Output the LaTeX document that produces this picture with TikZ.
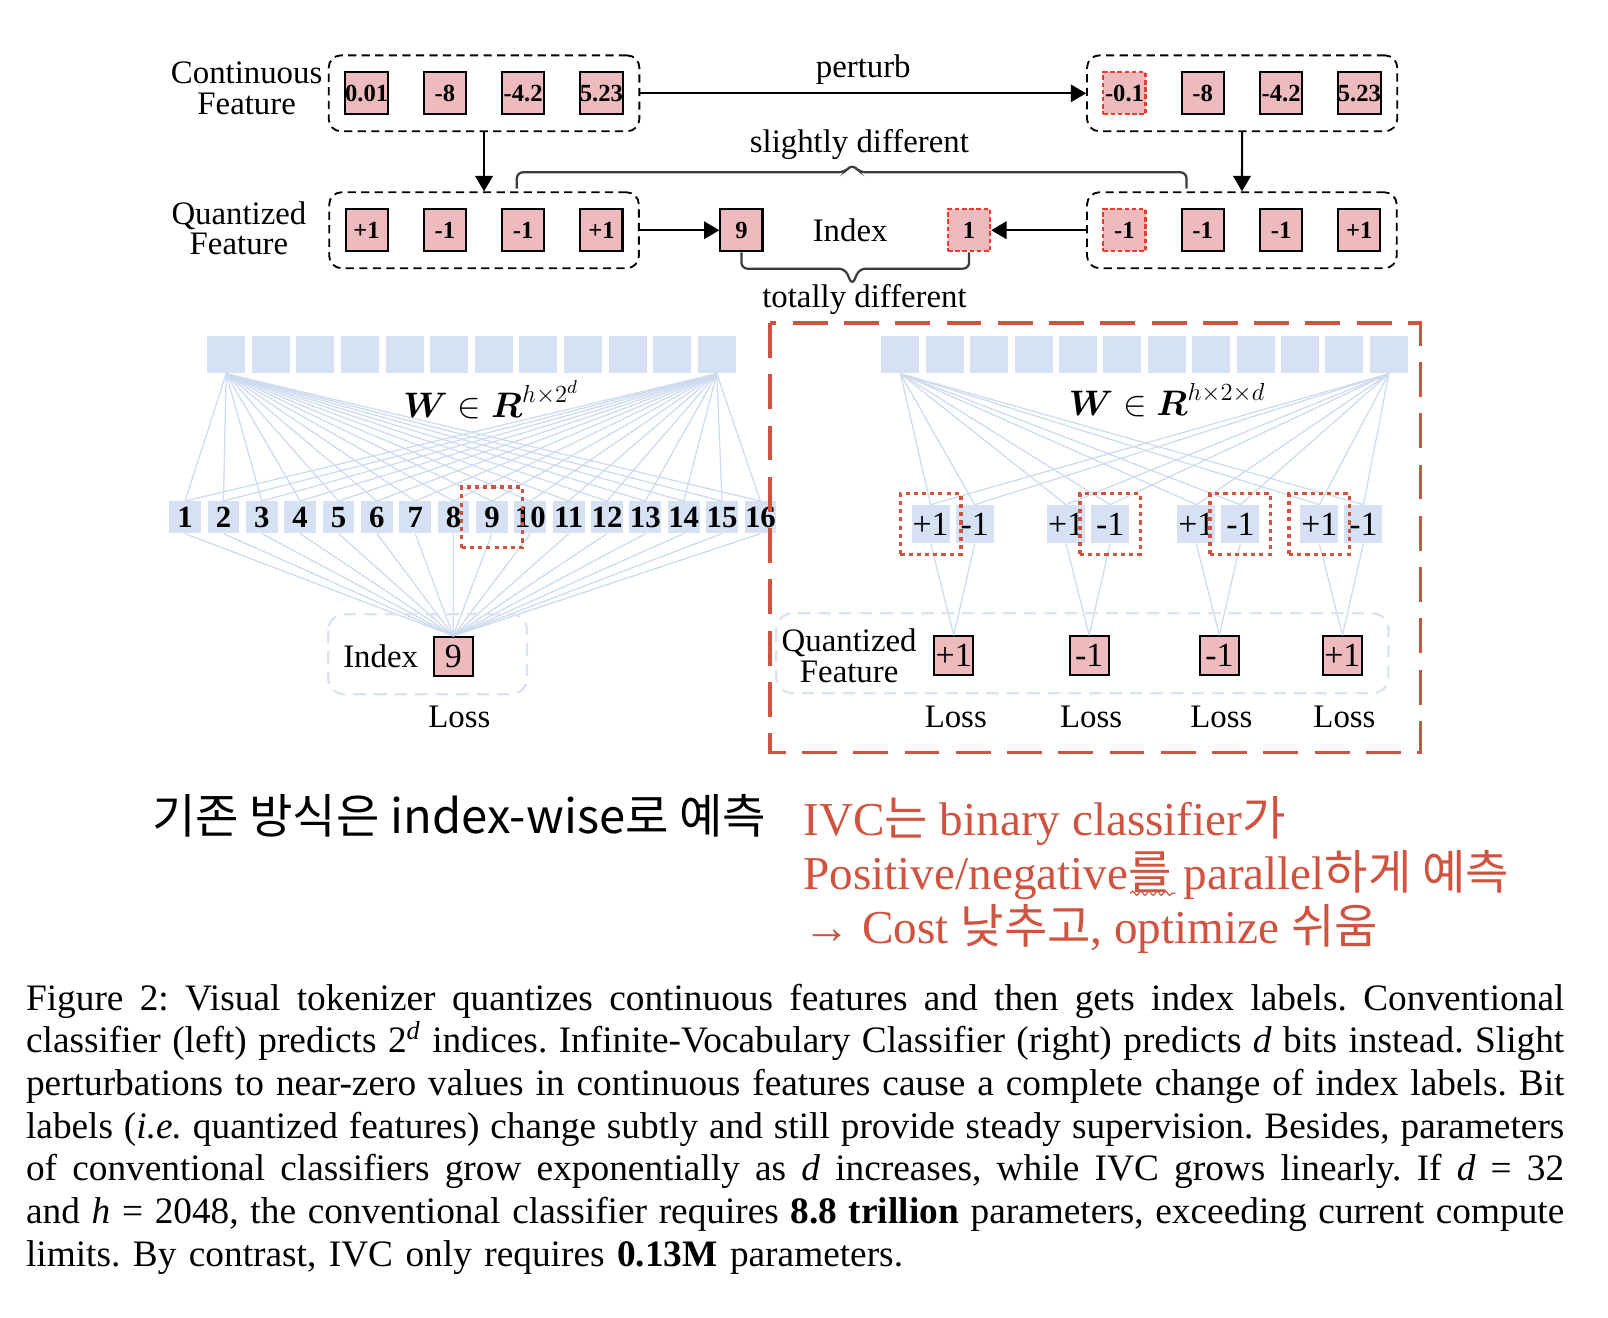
\documentclass[tikz,border=0pt]{standalone}
\usepackage{fontspec}
\usepackage{amsmath}
\setmainfont{Liberation Serif}
\newfontfamily\krfont{Noto Sans CJK KR}
\usetikzlibrary{arrows.meta, positioning, fit, calc, decorations.pathmorphing}
\definecolor{cellpink}{HTML}{EDBABE}
\definecolor{cellblue}{HTML}{D6E2F3}
\definecolor{fanblue}{HTML}{CCDBEF}
\definecolor{softborder}{HTML}{D9E3F2}
\definecolor{ivcred}{HTML}{D05340}
\definecolor{changedred}{HTML}{F03A2E}
\definecolor{bracegray}{HTML}{3C3C3C}
\newcommand{\capline}[1]{\leavevmode\hbox to 750pt{\spaceskip=0.25em plus 1em minus 0.1em\relax #1}}
\tikzset{
  valbox/.style={
    draw=black,
    fill=cellpink,
    line width=1pt,
    minimum width=20.5pt,
    minimum height=20.5pt,
    inner sep=0pt,
    font=\fontsize{12}{12}\selectfont\bfseries
  },
  changedbox/.style={
    valbox,
    draw=changedred,
    dash pattern=on 2.2pt off 1.3pt
  },
  groupbox/.style={
    draw=black,
    dash pattern=on 4pt off 2.6pt,
    line width=0.9pt,
    rounded corners=6pt,
    inner xsep=7.5pt,
    inner ysep=7.75pt
  },
  flowarrow/.style={
    -{Stealth[length=7.5pt, width=8.5pt, inset=0pt]},
    line width=1pt
  },
  bracket/.style={
    draw=bracegray,
    line width=1.1pt,
    rounded corners=3pt
  },
  lbl/.style={
    inner sep=0pt,
    font=\fontsize{16}{15}\selectfont,
    align=center
  },
  wcell/.style={
    fill=cellblue,
    minimum width=18.5pt,
    minimum height=18pt,
    inner sep=0pt
  },
  idxcell/.style={
    fill=cellblue,
    minimum width=15.5pt,
    minimum height=15.5pt,
    inner sep=0pt,
    font=\fontsize{15}{15}\selectfont\bfseries
  },
  bitcell/.style={
    fill=cellblue,
    minimum width=18.5pt,
    minimum height=18.5pt,
    inner sep=0pt,
    font=\fontsize{16.5}{16}\selectfont
  },
  labelbox/.style={
    draw=black,
    fill=cellpink,
    line width=1pt,
    minimum width=19pt,
    minimum height=19pt,
    inner sep=0pt,
    font=\fontsize{16.5}{16}\selectfont
  },
  fanline/.style={
    draw=fanblue,
    line width=0.6pt
  },
  pickbox/.style={
    draw=ivcred,
    line width=1.6pt,
    dash pattern=on 2pt off 2pt,
    minimum width=29.5pt,
    minimum height=29.5pt,
    inner sep=0pt
  },
  softbox/.style={
    draw=softborder,
    line width=1.1pt,
    dash pattern=on 6pt off 4pt,
    rounded corners=8pt
  },
  ivcframe/.style={
    draw=ivcred,
    line width=1.7pt,
    dash pattern=on 17pt off 8pt
  },
  wlabel/.style={
    inner sep=0pt,
    font=\fontsize{18}{18}\selectfont
  }
}

\begin{document}
\begin{tikzpicture}[x=0.5pt, y=-0.5pt]

  \fill[white] (0,0) rectangle (1568,1285);
  \useasboundingbox (0,0) rectangle (1568,1285);

  % Continuous features
  \node (cL1) [valbox] at (357.5,91) {0.01};
  \node (cL2) [valbox] at (433.8,91) {-8};
  \node (cL3) [valbox] at (510.2,91) {-4.2};
  \node (cL4) [valbox] at (586.5,91) {5.23};

  \node (cR1) [changedbox] at (1096.5,91) {-0.1};
  \node (cR2) [valbox] at (1172.8,91) {-8};
  \node (cR3) [valbox] at (1249.2,91) {-4.2};
  \node (cR4) [valbox] at (1325.5,91) {5.23};

  % Quantized features
  \node (qL1) [valbox] at (357.5,224.5) {+1};
  \node (qL2) [valbox] at (433.8,224.5) {-1};
  \node (qL3) [valbox] at (510.2,224.5) {-1};
  \node (qL4) [valbox] at (586.5,224.5) {+1};

  \node (qR1) [changedbox] at (1096.5,224.5) {-1};
  \node (qR2) [valbox] at (1172.8,224.5) {-1};
  \node (qR3) [valbox] at (1249.2,224.5) {-1};
  \node (qR4) [valbox] at (1325.5,224.5) {+1};

  % Index labels
  \node (idx9) [valbox] at (723,224.5) {9};
  \node (idx1) [changedbox] at (945,224.5) {1};
  \node (idxtxt) [lbl] at (829,224.5) {Index};

  % Group boxes
  \node (contL) [groupbox, fit=(cL1) (cL4)] {};
  \node (contR) [groupbox, fit=(cR1) (cR4)] {};
  \node (quantL) [groupbox, fit=(qL1) (qL4)] {};
  \node (quantR) [groupbox, fit=(qR1) (qR4)] {};

  \node (contlbl) [lbl] at (240.5,86) {Continuous\\Feature};
  \node (quantlbl) [lbl] at (233,222.5) {Quantized\\Feature};

  % Connectors
  \draw [flowarrow] (contL) -- node[lbl, above=4pt] (perturbtxt) {perturb} (contR);
  \draw [flowarrow] (contL) -- (quantL);
  \draw [flowarrow] (contR) -- (quantR);
  \draw [flowarrow] (quantL) -- (idx9);
  \draw [flowarrow] (quantR) -- (idx1);

  % Braces
  \coordinate (sdL) at (504,184);
  \coordinate (sdR) at (1157,184);
  \coordinate (sdTip) at (831,160);
  \draw [bracket] (sdL) |- ($(sdTip)+(-7,8)$) -- (sdTip) -- ($(sdTip)+(7,8)$) -| (sdR);
  \node (sdtxt) [lbl] at (838,141) {slightly different};

  \coordinate (tdTip) at (831,278);
  \draw [bracket] (idx9.south) |- ($(tdTip)+(-7,-16)$) -- (tdTip) -- ($(tdTip)+(7,-16)$) -| (idx1.south);
  \node (tdtxt) [lbl] at (843,292) {totally different};

  % Conventional classifier
  \foreach \i in {1,...,12}
    \node (wl\i) [wcell] at ({220.5+43.5*(\i-1)},346) {};
  \foreach \i in {1,...,16}
    \node (ix\i) [idxcell] at ({180.5+37.4*(\i-1)},504.5) {\i};

  \node (lidx) [labelbox] at (442,640) {9};
  \node (lidxtxt) [lbl, left=7pt of lidx] {Index};
  \node (lloss) [lbl] at (448,699) {Loss};

  \foreach \i in {1,...,16} {
    \draw [fanline] (wl1.south) -- (ix\i.north);
    \draw [fanline] (wl12.south) -- (ix\i.north);
    \draw [fanline] (ix\i.south) -- (lidx.north);
  }
  \draw [softbox] (320,599) rectangle (514,677);
  \node (lpick) [pickbox] at (ix9) {};
  \node (wltxt) [wlabel] at (479,390) {$\boldsymbol{W}\in\boldsymbol{R}^{h\times 2^d}$};

  % Infinite-vocabulary classifier
  \foreach \i in {1,...,12}
    \node (wr\i) [wcell] at ({878+43.3*(\i-1)},346) {};
  \foreach \k/\mx/\bit in {1/929/+1, 2/1061/-1, 3/1188/-1, 4/1308/+1} {
    \node (pa\k) [bitcell] at (\mx-21.5,511) {+1};
    \node (pb\k) [bitcell] at (\mx+21.5,511) {-1};
    \node (bit\k) [labelbox] at (\mx+1,639.5) {\bit};
    \node (loss\k) [lbl] at (\mx+3,699) {Loss};
  }
  \foreach \k in {1,...,4} {
    \draw [fanline] (wr1.south) -- (pa\k.north);
    \draw [fanline] (wr1.south) -- (pb\k.north);
    \draw [fanline] (wr12.south) -- (pa\k.north);
    \draw [fanline] (wr12.south) -- (pb\k.north);
    \draw [fanline] (pa\k.south) -- (bit\k.north);
    \draw [fanline] (pb\k.south) -- (bit\k.north);
  }
  \node (pick1) [pickbox] at (pa1) {};
  \node (pick2) [pickbox] at (pb2) {};
  \node (pick3) [pickbox] at (pb3) {};
  \node (pick4) [pickbox] at (pa4) {};

  \node (qftxt) [lbl] at (828,639.5) {Quantized\\Feature};
  \draw [softbox] (757,598) rectangle (1354,676);
  \node (wrtxt) [wlabel] at (1138,390) {$\boldsymbol{W}\in\boldsymbol{R}^{h\times 2\times d}$};
  \draw [ivcframe] (751,315) rectangle (1385,734);

  % Notes
  \node (oldnote) [anchor=west, inner sep=0pt, font=\krfont\fontsize{23}{27}\selectfont] at (148,795) {기존 방식은 index-wise로 예측};
  \node (ivcnote) [anchor=north west, inner sep=0pt, align=left, text=ivcred, font=\fontsize{23}{26.5}\selectfont] at (783,776)
    {IVC{\krfont 는} binary classifier{\krfont 가}\\Positive/negative{\krfont 를} parallel{\krfont 하게 예측}\\→ Cost {\krfont 낮추고}, optimize {\krfont 쉬움}};
  \draw [ivcred, line width=0.6pt, decorate, decoration={snake, amplitude=1pt, segment length=4pt}] (1102,871) -- (1146,871);

  % Caption
  \node (caption) [anchor=north west, inner sep=0pt, text width=750pt, align=left, font=\fontsize{18.2}{20.8}\selectfont\frenchspacing] at (25,959)
    {\capline{Figure 2: Visual tokenizer quantizes continuous features and then gets index labels. Conventional}\\
    \capline{classifier (left) predicts 2\textsuperscript{\textit{d}} indices. Infinite-Vocabulary Classifier (right) predicts \textit{d} bits instead. Slight}\\
    \capline{perturbations to near-zero values in continuous features cause a complete change of index labels. Bit}\\
    \capline{labels (\textit{i.e.} quantized features) change subtly and still provide steady supervision. Besides, parameters}\\
    \capline{of conventional classifiers grow exponentially as \textit{d} increases, while IVC grows linearly. If \textit{d} = 32}\\
    \capline{and \textit{h} = 2048, the conventional classifier requires \textbf{8.8 trillion} parameters, exceeding current compute}\\
    limits. By contrast, IVC only requires \textbf{0.13M} parameters.};

\end{tikzpicture}
\end{document}
